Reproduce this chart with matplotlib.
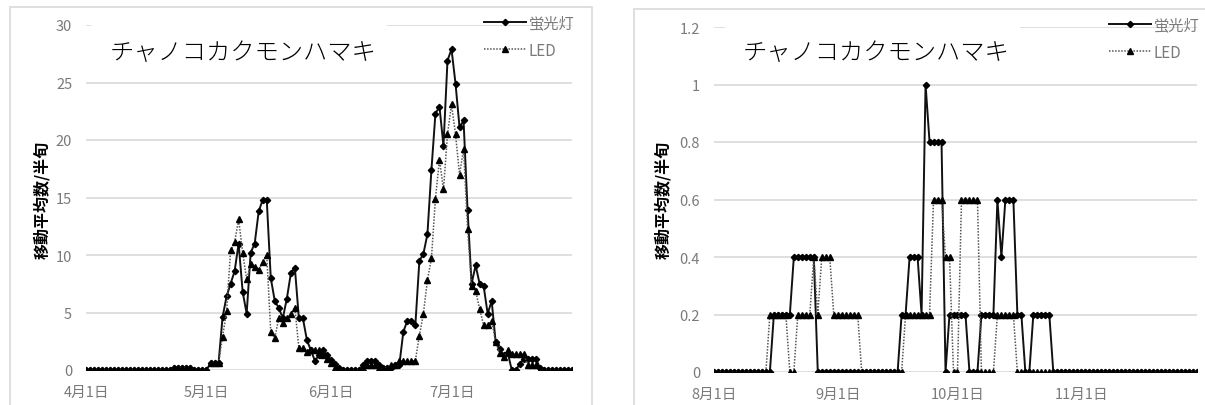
import matplotlib
matplotlib.use("Agg")
import matplotlib.pyplot as plt
import pandas as pd
from matplotlib.patches import Rectangle
from matplotlib.lines import Line2D

plt.rcParams['font.family'] = ['Noto Sans CJK JP', 'DejaVu Sans']

W, H = 1205, 406

species = "チャノコカクモンハマキ"
ylabel = "移動平均数/半旬"
names = ["蛍光灯", "LED"]

# spring: daily 5-day moving average, Apr 1 - Jul 31
spring_days = pd.date_range("2015-04-01", "2015-07-31", freq="D")
spring_fl = [
    0, 0, 0, 0, 0, 0, 0, 0, 0, 0,
    0, 0, 0, 0, 0, 0, 0, 0, 0, 0,
    0, 0, 0.2, 0.2, 0.2, 0.2, 0.2, 0, 0, 0,
    0, 0.6, 0.6, 0.6, 4.6, 6.4, 7.5, 8.6, 11.0, 6.8,
    4.9, 10.2, 11.0, 13.8, 14.8, 14.8, 8.0, 6.0, 5.4, 4.5,
    6.2, 8.4, 8.9, 4.5, 4.5, 2.6, 1.7, 0.8, 1.3, 1.7,
    1.3, 0.9, 0.5, 0.2, 0, 0, 0, 0, 0, 0.4,
    0.8, 0.8, 0.8, 0.4, 0.2, 0.2, 0.2, 0.4, 0.4, 3.3,
    4.3, 4.3, 3.9, 9.5, 10.1, 11.8, 17.4, 22.3, 22.9, 19.5,
    26.9, 27.9, 24.9, 21.1, 21.7, 13.9, 7.5, 9.1, 7.5, 7.3,
    4.9, 6.0, 2.4, 1.8, 1.3, 1.5, 0, 0, 0.5, 1.0,
    1.0, 1.0, 1.0, 0.2, 0, 0, 0, 0, 0, 0,
    0, 0]
spring_led = [
    0, 0, 0, 0, 0, 0, 0, 0, 0, 0,
    0, 0, 0, 0, 0, 0, 0, 0, 0, 0,
    0, 0, 0.2, 0.2, 0.2, 0.2, 0.2, 0, 0, 0,
    0, 0.6, 0.6, 0.6, 2.9, 5.1, 10.4, 11.1, 13.1, 10.2,
    7.9, 9.2, 9.0, 8.7, 9.4, 10.0, 3.3, 2.8, 4.5, 4.1,
    4.5, 4.9, 5.4, 1.9, 1.9, 1.6, 1.7, 1.7, 1.7, 1.3,
    1.0, 0.6, 0.2, 0, 0, 0, 0, 0, 0, 0.2,
    0.4, 0.4, 0.4, 0.2, 0.2, 0.2, 0.4, 0.4, 0.8, 0.8,
    0.8, 0.8, 0.8, 3.0, 4.9, 7.8, 9.7, 14.9, 18.3, 15.7,
    20.5, 23.1, 20.5, 17.0, 19.2, 12.3, 7.3, 6.9, 5.3, 3.9,
    3.9, 4.3, 2.4, 1.5, 1.1, 1.7, 1.4, 1.4, 1.4, 1.4,
    0.4, 0.4, 0.4, 0, 0, 0, 0, 0, 0, 0,
    0, 0]
spring_yticks = [0, 5, 10, 15, 20, 25, 30]
spring_ylabels = ["0", "5", "10", "15", "20", "25", "30"]
spring_xticks = ["2015-04-01", "2015-05-01", "2015-06-01", "2015-07-01"]
spring_xlabels = ["4月1日", "5月1日", "6月1日", "7月1日"]

# autumn: Aug 1 - Nov 30
autumn_days = pd.date_range("2015-08-01", "2015-11-30", freq="D")
autumn_fl = [
    0, 0, 0, 0, 0, 0, 0, 0, 0, 0,
    0, 0, 0, 0, 0, 0.2, 0.2, 0.2, 0.2, 0.2,
    0.4, 0.4, 0.4, 0.4, 0.4, 0.4, 0, 0, 0, 0,
    0, 0, 0, 0, 0, 0, 0, 0, 0, 0,
    0, 0, 0, 0, 0, 0, 0, 0.2, 0.2, 0.4,
    0.4, 0.4, 0.2, 1.0, 0.8, 0.8, 0.8, 0.8, 0, 0.2,
    0.2, 0.2, 0.2, 0.2, 0, 0, 0, 0.2, 0.2, 0.2,
    0.2, 0.6, 0.4, 0.6, 0.6, 0.6, 0.2, 0.2, 0, 0,
    0.2, 0.2, 0.2, 0.2, 0.2, 0, 0, 0, 0, 0,
    0, 0, 0, 0, 0, 0, 0, 0, 0, 0,
    0, 0, 0, 0, 0, 0, 0, 0, 0, 0,
    0, 0, 0, 0, 0, 0, 0, 0, 0, 0,
    0, 0]
autumn_led = [
    0, 0, 0, 0, 0, 0, 0, 0, 0, 0,
    0, 0, 0, 0, 0.2, 0.2, 0.2, 0.2, 0.2, 0,
    0, 0.2, 0.2, 0.2, 0.2, 0.4, 0.2, 0.4, 0.4, 0.4,
    0.2, 0.2, 0.2, 0.2, 0.2, 0.2, 0.2, 0, 0, 0,
    0, 0, 0, 0, 0, 0, 0, 0, 0.2, 0.2,
    0.2, 0.2, 0.2, 0.2, 0.2, 0.6, 0.6, 0.6, 0.4, 0.4,
    0, 0, 0.6, 0.6, 0.6, 0.6, 0.6, 0, 0, 0,
    0, 0.2, 0.2, 0.2, 0.2, 0.2, 0, 0, 0, 0,
    0, 0, 0, 0, 0, 0, 0, 0, 0, 0,
    0, 0, 0, 0, 0, 0, 0, 0, 0, 0,
    0, 0, 0, 0, 0, 0, 0, 0, 0, 0,
    0, 0, 0, 0, 0, 0, 0, 0, 0, 0,
    0, 0]
autumn_yticks = [0, 0.2, 0.4, 0.6, 0.8, 1.0, 1.2]
autumn_ylabels = ["0", "0.2", "0.4", "0.6", "0.8", "1", "1.2"]
autumn_xticks = ["2015-08-01", "2015-09-01", "2015-10-01", "2015-11-01"]
autumn_xlabels = ["8月1日", "9月1日", "10月1日", "11月1日"]

GRID = '#d9d9d9'
TICK = '#7a7a7a'


def px_box(x0, y0, x1, y1):
    return [x0 / W, 1 - y1 / H, (x1 - x0) / W, (y1 - y0) / H]


def panel(fig, box, frame, days, fl, led, yticks, ylabels, xticks, xlabels,
          title_x, cover, ylab_x):
    # outer chart frame
    fx0, fy0, fx1 = frame
    fig.add_artist(Rectangle((fx0 / W, -0.05), (fx1 - fx0) / W, 1.05 - fy0 / H,
                             transform=fig.transFigure, fill=False,
                             edgecolor=GRID, lw=1.2, zorder=0))
    ax = fig.add_axes(px_box(*box))
    ax.plot(days, fl, color='#111111', lw=1.4, marker='D', ms=3.2,
            mfc='black', mec='black', zorder=3)
    ax.plot(days, led, color='#555555', lw=1.1, ls=(0, (1, 1)), marker='^',
            ms=4.6, mfc='black', mec='black', zorder=4)
    ax.set_xlim(days[0], days[-1])
    ax.set_ylim(yticks[0], yticks[-1])
    ax.set_yticks(yticks)
    ax.set_yticklabels(ylabels)
    ax.set_xticks(pd.to_datetime(xticks))
    ax.set_xticklabels(xlabels)
    ax.yaxis.grid(True, color=GRID, lw=1.2)
    ax.set_axisbelow(True)
    for s in ax.spines.values():
        s.set_visible(False)
    ax.tick_params(axis='y', length=0, pad=10, labelsize=10.5, labelcolor=TICK)
    ax.tick_params(axis='x', length=0, pad=11, labelsize=10.5, labelcolor=TICK)
    ax.patch.set_alpha(0)

    handles = [Line2D([], [], color='#111111', lw=1.4, marker='D', ms=3.2,
                      mfc='black', mec='black'),
               Line2D([], [], color='#555555', lw=1.1, ls=(0, (1, 1)),
                      marker='^', ms=4.6, mfc='black', mec='black')]
    ax.legend(handles, names, loc='upper right', bbox_to_anchor=(1.005, 1.03),
              frameon=False, fontsize=11, labelcolor=TICK, handlelength=2.8,
              handletextpad=0.15, labelspacing=0.65, borderaxespad=0,
              borderpad=0)

    # white title box hides the top gridline behind the title
    cx0, cx1 = cover
    fig.add_artist(Rectangle((cx0 / W, 1 - 38 / H), (cx1 - cx0) / W, 20 / H,
                             transform=fig.transFigure, facecolor='white',
                             edgecolor='none', zorder=1))
    fig.text(title_x / W, 1 - 53 / H, species, fontsize=17.5, weight='light',
             ha='left', va='center', color='black', zorder=2)
    fig.text(ylab_x / W, 1 - 200 / H, ylabel, fontsize=11.5, weight='bold',
             rotation=90, ha='center', va='center', color='black')
    return ax


fig = plt.figure(figsize=(W / 100, H / 100), dpi=100)

panel(fig, (86, 26, 572, 371), (10, 8, 592), spring_days, spring_fl,
      spring_led, spring_yticks, spring_ylabels, spring_xticks,
      spring_xlabels, 110, (91, 387), 42)
panel(fig, (714, 28, 1197, 373), (634, 10, 1215), autumn_days, autumn_fl,
      autumn_led, autumn_yticks, autumn_ylabels, autumn_xticks,
      autumn_xlabels, 743, (725, 1020), 663)

fig.savefig("out.png", dpi=100)
